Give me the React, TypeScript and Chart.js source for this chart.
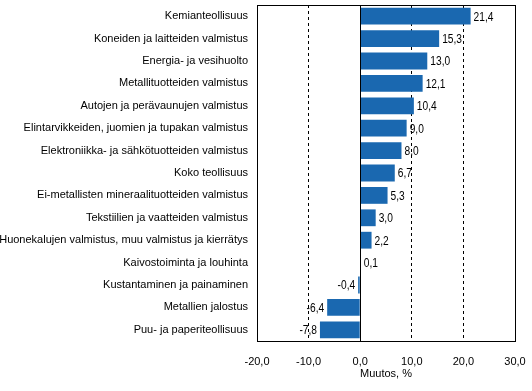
import React, { useEffect, useRef } from "react";
import { Chart, registerables } from "chart.js";

Chart.register(...registerables);

const categories = [
  "Kemianteollisuus",
  "Koneiden ja laitteiden valmistus",
  "Energia- ja vesihuolto",
  "Metallituotteiden valmistus",
  "Autojen ja perävaunujen valmistus",
  "Elintarvikkeiden, juomien ja tupakan valmistus",
  "Elektroniikka- ja sähkötuotteiden valmistus",
  "Koko teollisuus",
  "Ei-metallisten mineraalituotteiden valmistus",
  "Tekstiilien ja vaatteiden valmistus",
  "Huonekalujen valmistus, muu valmistus ja kierrätys",
  "Kaivostoiminta ja louhinta",
  "Kustantaminen ja painaminen",
  "Metallien jalostus",
  "Puu- ja paperiteollisuus",
];

const values = [21.4, 15.3, 13.0, 12.1, 10.4, 9.0, 8.0, 6.7, 5.3, 3.0, 2.2, 0.1, -0.4, -6.4, -7.8];

const axisMin = -20;
const axisMax = 30;
const axisStep = 10;
const axisTitle = "Muutos, %";

const fmt = (v: number) => v.toFixed(1).replace(".", ",");

const NUM_FONT_FAMILY = "'Liberation Sans Narrow', 'Arial Narrow', 'Liberation Sans', sans-serif";
const TEXT_FONT_FAMILY = "Arial, 'Liberation Sans', sans-serif";

const labelPlugin = {
  id: "valueLabels",
  afterDatasetsDraw(chart: any) {
    const ctx = chart.ctx;
    const meta = chart.getDatasetMeta(0);
    ctx.save();
    ctx.font = `12px ${NUM_FONT_FAMILY}`;
    ctx.fillStyle = "#000";
    ctx.textBaseline = "middle";
    meta.data.forEach((bar: any, i: number) => {
      const v = values[i];
      const x = bar.x;
      const y = bar.y;
      // slightly condensed text, like the reference's narrow numerals
      ctx.save();
      if (v >= 0) {
        ctx.translate(x + 3, y + 1);
        ctx.scale(0.85, 1);
        ctx.textAlign = "left";
      } else {
        ctx.translate(x - 3, y + 1);
        ctx.scale(0.85, 1);
        ctx.textAlign = "right";
      }
      ctx.fillText(fmt(v), 0, 0);
      ctx.restore();
    });
    ctx.restore();
  },
};

const framePlugin = {
  id: "frame",
  afterDraw(chart: any) {
    const { ctx, chartArea } = chart;
    const xs = chart.scales.x;
    ctx.save();
    ctx.strokeStyle = "#000";
    ctx.lineWidth = 1;
    ctx.setLineDash([]);
    const x0 = Math.round(xs.getPixelForValue(0)) + 0.5;
    ctx.beginPath();
    ctx.moveTo(x0, chartArea.top);
    ctx.lineTo(x0, chartArea.bottom);
    ctx.stroke();
    ctx.strokeRect(
      Math.round(chartArea.left) + 0.5,
      Math.round(chartArea.top) + 0.5,
      Math.round(chartArea.right - chartArea.left),
      Math.round(chartArea.bottom - chartArea.top)
    );
    ctx.restore();
  },
};

export default function App() {
  const ref = useRef<HTMLCanvasElement | null>(null);
  useEffect(() => {
    if (!ref.current) return;
    const chart = new Chart(ref.current, {
      type: "bar",
      data: {
        labels: categories,
        datasets: [
          {
            data: values,
            backgroundColor: "#1a68b0",
            borderWidth: 0,
            categoryPercentage: 1,
            barPercentage: 0.75,
          },
        ],
      },
      options: {
        indexAxis: "y",
        animation: false,
        responsive: false,
        maintainAspectRatio: false,
        layout: { padding: { left: 0, right: 17, top: 5, bottom: 0 } },
        plugins: {
          legend: { display: false },
          tooltip: { enabled: false },
        },
        scales: {
          x: {
            min: axisMin,
            max: axisMax,
            ticks: {
              stepSize: axisStep,
              color: "#000",
              font: { family: NUM_FONT_FAMILY, size: 11 },
              padding: 14,
              callback: (v: any) => fmt(Number(v)),
            },
            grid: {
              color: "#000",
              lineWidth: 1,
              drawTicks: false,
            },
            border: { display: false, dash: [3, 3] },
            title: {
              display: true,
              text: axisTitle,
              color: "#000",
              font: { family: TEXT_FONT_FAMILY, size: 11 },
              padding: { top: 0, bottom: 10 },
            },
            afterFit: (s: any) => {
              s.height = 50;
              s.paddingLeft = 0;
              s.paddingRight = 0;
            },
          } as any,
          y: {
            ticks: {
              color: "#000",
              font: { family: TEXT_FONT_FAMILY, size: 11 },
              padding: 9,
              autoSkip: false,
            },
            grid: { display: false, drawTicks: false },
            border: { display: false },
            afterFit: (s: any) => {
              s.width = 257;
              s.paddingTop = 0;
              s.paddingBottom = 0;
            },
          } as any,
        },
      },
      plugins: [labelPlugin, framePlugin],
    });
    return () => chart.destroy();
  }, []);
  return (
    <div style={{ position: "absolute", left: 0, top: 0, width: 532, height: 391, background: "#fff" }}>
      <canvas ref={ref} width={532} height={391} style={{ width: 532, height: 391 }} />
    </div>
  );
}
